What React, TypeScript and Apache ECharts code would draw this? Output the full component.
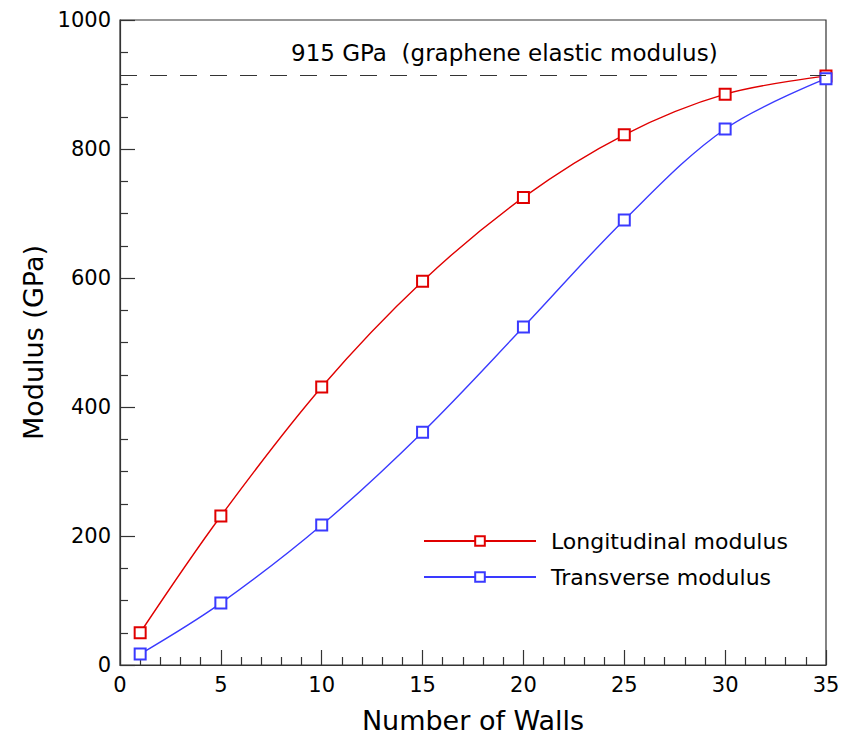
import React, { useEffect, useRef } from "react";
import * as echarts from "echarts";

const walls = [1, 5, 10, 15, 20, 25, 30, 35];
const longitudinal = [50, 231, 431, 595, 725, 822, 885, 913];
const transverse = [17, 96, 217, 361, 524, 690, 831, 909];
const grapheneModulus = 915;
const grapheneLabel = "915 GPa  (graphene elastic modulus)";
const seriesNames = ["Longitudinal modulus", "Transverse modulus"];

const FONT = "DejaVu Sans, sans-serif";

export default function App() {
  const ref = useRef<HTMLDivElement>(null);
  useEffect(() => {
    if (!ref.current) return;
    const chart = echarts.init(ref.current, null, { renderer: "svg" });
    const axisCommon = {
      axisLine: { show: true, onZero: false, lineStyle: { color: "#333", width: 1.2 } },
      axisTick: { show: true, inside: true, length: 15, lineStyle: { color: "#333", width: 1.2 } },
      minorTick: { show: true, length: 8, lineStyle: { color: "#333", width: 1.2 } },
      splitLine: { show: false },
      axisLabel: { color: "#000", fontSize: 21, fontFamily: FONT, formatter: (v: number) => String(v) },
      nameTextStyle: { color: "#000", fontSize: 27, fontFamily: FONT },
    };
    chart.setOption({
      animation: false,
      backgroundColor: "#fff",
      grid: { left: 120, right: 24, top: 20, bottom: 75, show: true, borderColor: "#333", borderWidth: 1.2 },
      xAxis: {
        type: "value",
        min: 0,
        max: 35,
        interval: 5,
        name: "Number of Walls",
        nameLocation: "middle",
        nameGap: 42,
        ...axisCommon,
        minorTick: { ...axisCommon.minorTick, splitNumber: 5 },
        axisLabel: { ...axisCommon.axisLabel, margin: 9 },
      },
      yAxis: {
        type: "value",
        min: 0,
        max: 1000,
        interval: 200,
        name: "Modulus (GPa)",
        nameLocation: "middle",
        nameGap: 72,
        ...axisCommon,
        minorTick: { ...axisCommon.minorTick, splitNumber: 4 },
        axisLabel: { ...axisCommon.axisLabel, margin: 9 },
      },
      legend: {
        left: 418,
        top: 525,
        orient: "vertical",
        itemWidth: 112,
        itemHeight: 12,
        itemGap: 14,
        textStyle: { fontSize: 22, fontFamily: FONT, color: "#000", padding: [0, 0, 0, 10] },
        data: seriesNames,
      },
      graphic: [
        {
          type: "text",
          left: 291,
          top: 41,
          style: { text: grapheneLabel, fontSize: 23, fontFamily: FONT, fill: "#000" },
        },
      ],
      series: [
        {
          name: seriesNames[0],
          type: "line",
          data: walls.map((w, i) => [w, longitudinal[i]]),
          smooth: 0.35,
          symbol: "emptyRect",
          symbolSize: 11,
          color: "#e00000",
          lineStyle: { width: 1.4, color: "#e00000" },
          itemStyle: { color: "#e00000", borderWidth: 1.1 },
          markLine: {
            silent: true,
            symbol: "none",
            label: { show: false },
            lineStyle: { color: "#333", type: [17, 13], width: 1.2 },
            data: [[{ coord: [0, grapheneModulus] }, { coord: [35, grapheneModulus] }]],
          },
        },
        {
          name: seriesNames[1],
          type: "line",
          data: walls.map((w, i) => [w, transverse[i]]),
          smooth: 0.35,
          symbol: "emptyRect",
          symbolSize: 11,
          color: "#3a3aff",
          lineStyle: { width: 1.4, color: "#3a3aff" },
          itemStyle: { color: "#3a3aff", borderWidth: 1.1 },
        },
      ],
    });
    return () => chart.dispose();
  }, []);
  return (
    <div
      ref={ref}
      style={{ position: "absolute", left: 0, top: 0, width: 850, height: 740 }}
    />
  );
}
